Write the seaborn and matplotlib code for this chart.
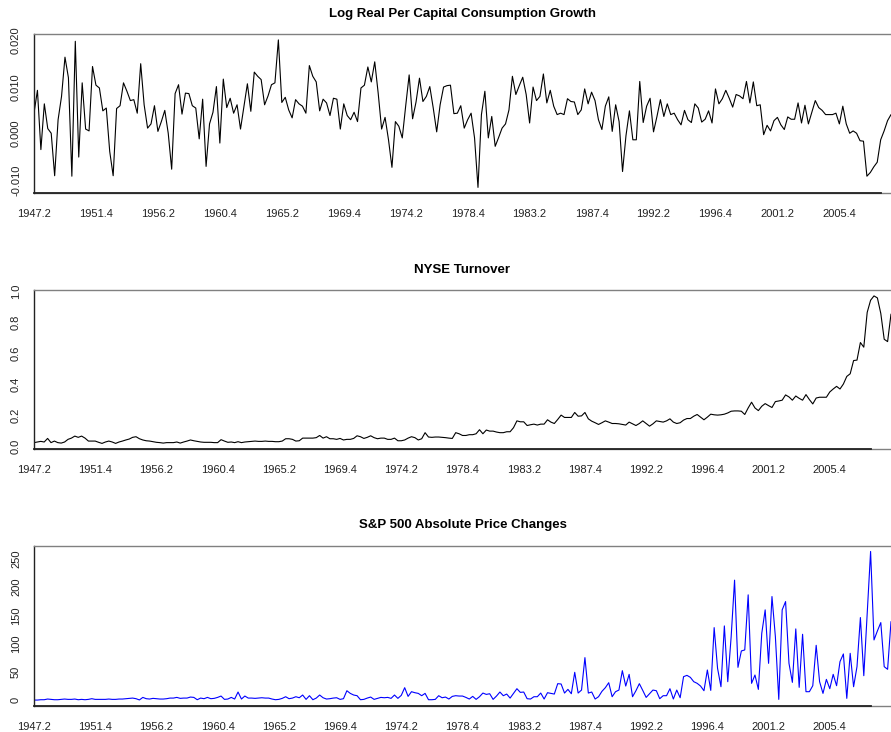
import numpy as np
import pandas as pd
import matplotlib
matplotlib.use("Agg")
import matplotlib.pyplot as plt
import seaborn as sns

# ---------------- data (quarterly, first observation 1947.2) ----------------
consumption = [
    0.0044, 0.0093, -0.0034, 0.0064, 0.0011, 0.0001, -0.0090, 0.0030, 0.0080, 0.0164,
    0.0120, -0.0091, 0.0198, -0.0050, 0.0109, 0.0010, 0.0006, 0.0144, 0.0104, 0.0098,
    0.0049, 0.0055, -0.0038, -0.0090, 0.0054, 0.0060, 0.0109, 0.0091, 0.0071, 0.0073,
    0.0044, 0.0150, 0.0062, 0.0012, 0.0021, 0.0060, 0.0005, 0.0026, 0.0050, 0.0001,
    -0.0076, 0.0086, 0.0105, 0.0042, 0.0087, 0.0086, 0.0060, 0.0055, -0.0011, 0.0074,
    -0.0070, 0.0021, 0.0046, 0.0101, -0.0020, 0.0117, 0.0056, 0.0076, 0.0044, 0.0062,
    0.0010, 0.0059, 0.0107, 0.0048, 0.0132, 0.0123, 0.0116, 0.0062, 0.0081, 0.0105,
    0.0109, 0.0201, 0.0067, 0.0078, 0.0051, 0.0034, 0.0073, 0.0064, 0.0059, 0.0044,
    0.0146, 0.0123, 0.0111, 0.0049, 0.0074, 0.0066, 0.0039, 0.0076, 0.0074, 0.0010,
    0.0064, 0.0039, 0.0030, 0.0046, 0.0026, 0.0098, 0.0104, 0.0143, 0.0111, 0.0154,
    0.0087, 0.0010, 0.0035, -0.0013, -0.0072, 0.0026, 0.0016, -0.0009, 0.0060, 0.0126,
    0.0032, 0.0068, 0.0119, 0.0069, 0.0080, 0.0101, 0.0055, 0.0004, 0.0062, 0.0100,
    0.0103, 0.0104, 0.0043, 0.0044, 0.0060, 0.0012, 0.0030, 0.0044, -0.0009, -0.0115,
    0.0041, 0.0091, -0.0009, 0.0037, -0.0027, -0.0008, 0.0012, 0.0021, 0.0051, 0.0123,
    0.0084, 0.0103, 0.0121, 0.0084, 0.0023, 0.0100, 0.0071, 0.0080, 0.0128, 0.0066,
    0.0093, 0.0059, 0.0041, 0.0044, 0.0041, 0.0075, 0.0069, 0.0068, 0.0041, 0.0051,
    0.0096, 0.0064, 0.0089, 0.0071, 0.0030, 0.0009, 0.0059, 0.0079, 0.0005, 0.0062,
    0.0026, -0.0081, -0.0004, 0.0049, -0.0013, -0.0013, 0.0112, 0.0024, 0.0059, 0.0076,
    0.0004, 0.0037, 0.0073, 0.0037, 0.0064, 0.0041, 0.0044, 0.0030, 0.0019, 0.0050,
    0.0030, 0.0024, 0.0064, 0.0055, 0.0025, 0.0031, 0.0049, 0.0023, 0.0096, 0.0064,
    0.0075, 0.0093, 0.0076, 0.0057, 0.0084, 0.0081, 0.0075, 0.0112, 0.0066, 0.0111,
    0.0060, 0.0062, -0.0002, 0.0018, 0.0006, 0.0028, 0.0035, 0.0019, 0.0009, 0.0036,
    0.0031, 0.0031, 0.0066, 0.0023, 0.0061, 0.0021, 0.0046, 0.0071, 0.0056, 0.0050,
    0.0041, 0.0041, 0.0041, 0.0044, 0.0021, 0.0059, 0.0021, 0.0001, 0.0006, 0.0001,
    -0.0015, -0.0016, -0.0091, -0.0083, -0.0071, -0.0061, -0.0013, 0.0006, 0.0028, 0.0041,
]

turnover = [
    0.026, 0.030, 0.034, 0.030, 0.053, 0.026, 0.036, 0.026, 0.023, 0.030,
    0.047, 0.055, 0.068, 0.060, 0.068, 0.055, 0.036, 0.036, 0.036, 0.028,
    0.021, 0.030, 0.036, 0.030, 0.021, 0.030, 0.036, 0.043, 0.049, 0.060,
    0.064, 0.051, 0.043, 0.038, 0.036, 0.032, 0.028, 0.026, 0.023, 0.026,
    0.026, 0.026, 0.030, 0.023, 0.030, 0.036, 0.043, 0.038, 0.034, 0.030,
    0.028, 0.028, 0.028, 0.026, 0.026, 0.045, 0.036, 0.028, 0.030, 0.026,
    0.032, 0.026, 0.030, 0.032, 0.034, 0.036, 0.034, 0.034, 0.036, 0.034,
    0.034, 0.032, 0.032, 0.036, 0.051, 0.051, 0.047, 0.036, 0.038, 0.055,
    0.055, 0.055, 0.055, 0.058, 0.072, 0.055, 0.064, 0.051, 0.051, 0.047,
    0.053, 0.043, 0.047, 0.047, 0.053, 0.070, 0.064, 0.053, 0.060, 0.070,
    0.058, 0.051, 0.055, 0.055, 0.047, 0.047, 0.055, 0.038, 0.038, 0.043,
    0.055, 0.064, 0.058, 0.043, 0.051, 0.090, 0.062, 0.060,
    0.062, 0.062, 0.060, 0.058, 0.055, 0.053, 0.090, 0.083, 0.072, 0.072,
    0.077, 0.077, 0.083, 0.109, 0.083, 0.107, 0.100, 0.100, 0.094, 0.090,
    0.090, 0.096, 0.096, 0.122, 0.166, 0.160, 0.160, 0.136, 0.141, 0.145,
    0.139, 0.145, 0.145, 0.173, 0.158, 0.149, 0.175, 0.203, 0.188, 0.188,
    0.188, 0.220, 0.196, 0.198, 0.220, 0.179, 0.164, 0.154, 0.143, 0.154,
    0.166, 0.158, 0.149, 0.149, 0.147, 0.143, 0.139, 0.158, 0.147, 0.136,
    0.149, 0.166, 0.149, 0.132, 0.147, 0.166, 0.162, 0.158, 0.166, 0.179,
    0.158, 0.149, 0.154, 0.171, 0.181, 0.181, 0.196, 0.207, 0.190, 0.173,
    0.190, 0.209, 0.205, 0.203, 0.205, 0.209, 0.217, 0.228, 0.230, 0.230,
    0.228, 0.207, 0.249, 0.286, 0.249, 0.232, 0.260, 0.277, 0.264, 0.252,
    0.290, 0.294, 0.299, 0.333, 0.320, 0.299, 0.326, 0.311, 0.299, 0.335,
    0.303, 0.275, 0.313, 0.318, 0.318, 0.318, 0.352, 0.371, 0.388, 0.371,
    0.403, 0.452, 0.469, 0.554, 0.557, 0.670, 0.640, 0.864, 0.942, 0.970,
    0.957, 0.857, 0.691, 0.676, 0.853,
]

sp500_abs_change = [
    0.0, 0.0, 0.6, 0.6, 1.8, 1.2, 0.6, 0.6, 1.2, 1.8,
    1.2, 1.2, 1.8, 0.6, 1.2, 0.6, 1.2, 2.4, 1.2, 1.2,
    1.2, 1.2, 1.8, 1.2, 1.2, 1.8, 1.8, 2.4, 3.0, 3.5,
    2.4, 0.2, 4.7, 2.4, 1.8, 3.0, 2.4, 1.8, 1.8, 2.4,
    3.5, 3.5, 4.7, 3.0, 3.5, 3.5, 5.3, 4.7, 0.6, 3.5,
    2.4, 4.7, 2.4, 3.0, 4.7, 7.1, 1.2, 1.8, 4.7, 1.8,
    14.2, 1.8, 7.1, 3.5, 3.5, 3.0, 3.5, 4.1, 3.5, 3.5,
    1.8, 0.6, 1.2, 3.0, 5.9, 2.4, 3.5, 5.9, 4.1, 8.9,
    1.2, 7.7, 0.6, 3.5, 8.9, 4.1, 1.8, 2.4, 3.5, 4.1,
    1.2, 2.4, 16.5, 11.8, 8.9, 7.7, 0.6, 1.2, 3.5, 5.3,
    1.2, 3.0, 4.7, 4.1, 4.7, 3.0, 8.9, 3.0, 8.3, 21.9,
    6.5, 14.8, 13.0, 11.8, 7.7, 11.8, 0.6, 0.6, 1.2,
    7.7, 4.1, 5.3, 1.8, 6.5, 7.7, 7.1, 7.1, 4.7, 1.8,
    6.5, 1.2, 5.9, 12.4, 10.0, 11.2, 1.2, 7.1, 14.2, 7.7,
    10.6, 3.5, 11.8, 20.1, 13.6, 14.2, 2.4, 1.8, 5.9, 5.9,
    12.4, 1.8, 13.0, 11.8, 10.6, 29.0, 28.4, 12.4, 18.9, 11.2,
    49.1, 12.4, 17.7, 75.1, 12.4, 14.2, 1.8, 5.9, 15.4, 21.9,
    30.7, 5.9, 14.8, 17.7, 52.0, 24.8, 45.5, 5.9, 16.5, 29.0,
    17.1, 4.7, 11.2, 17.7, 16.5, 2.4, 7.7, 7.7, 20.1, 1.8,
    17.7, 4.1, 41.4, 43.7, 40.2, 32.5, 29.6, 24.8, 16.5, 53.2,
    17.1, 128.2, 56.1, 23.6, 131.2, 32.5, 112.3, 212.2, 57.9, 86.9,
    88.7, 186.2, 29.6, 44.3, 18.9, 118.2, 159.6, 65.0, 183.2, 112.3,
    1.2, 159.6, 174.3, 65.0, 31.3, 125.9, 22.5, 116.4, 14.8, 14.8,
    25.4, 96.9, 32.5, 11.8, 36.6, 20.1, 45.5, 25.4, 68.0, 81.6,
    3.0, 82.7, 23.6, 59.1, 146.0, 43.1, 153.7, 263.0, 106.4, 122.3,
    137.1, 59.1, 54.4, 138.9,
]

quarter_labels = ["1947.2", "1951.4", "1956.2", "1960.4", "1965.2", "1969.4", "1974.2",
                  "1978.4", "1983.2", "1987.4", "1992.2", "1996.4", "2001.2", "2005.4"]

titles = ["Log Real Per Capital Consumption Growth",
          "NYSE Turnover",
          "S&P 500 Absolute Price Changes"]

cons_yticks = [-0.010, -0.005, 0.000, 0.005, 0.010, 0.015, 0.020]
cons_ylabels = ["-0.010", "", "0.000", "", "0.010", "", "0.020"]
turn_yticks = [0.0, 0.2, 0.4, 0.6, 0.8, 1.0]
turn_ylabels = ["0.0", "0.2", "0.4", "0.6", "0.8", "1.0"]
sp_yticks = [0, 50, 100, 150, 200, 250]
sp_ylabels = ["0", "50", "100", "150", "200", "250"]

# ---------------- styling ----------------
sns.set_style("white")
plt.rcParams['font.family'] = ['Liberation Sans', 'DejaVu Sans']

W, H = 891, 732
fig = plt.figure(figsize=(W / 100, H / 100), dpi=100)

panels = [
    (consumption, titles[0], "black", 34.0, 193.3, cons_yticks, cons_ylabels),
    (turnover, titles[1], "black", 290.0, 449.3, turn_yticks, turn_ylabels),
    (sp500_abs_change, titles[2], "#0000FF", 545.5, 706.0, sp_yticks, sp_ylabels),
]

left_px = 34.0
dark = "#222222"
boxgray = "#808080"

for vals, title, color, top_px, bot_px, yt, yl in panels:
    ax = fig.add_axes([left_px / W, 1 - bot_px / H, (W - left_px) / W, (bot_px - top_px) / H])
    n = len(vals)
    df = pd.DataFrame({"t": np.arange(n), "v": vals})
    sns.lineplot(data=df, x="t", y="v", ax=ax, color=color, lw=0.8)
    ax.set_xlim(0, n - 1)
    lo, hi = min(vals), max(vals)
    rng = hi - lo
    ax.set_ylim(lo - 0.04 * rng, hi + 0.04 * rng)
    ax.set_xlabel("")
    ax.set_ylabel("")

    major = np.arange(0, 18 * len(quarter_labels), 18)
    minor = np.array([m for m in range(0, 247, 6) if m % 18 != 0])
    ax.set_xticks(major)
    ax.set_xticklabels(quarter_labels)
    ax.set_xticks(minor, minor=True)
    ax.set_yticks(yt)
    ax.set_yticklabels(yl, rotation=90, va="center", ha="right")

    ax.tick_params(axis="both", which="both", direction="out", length=3.8, width=0.8,
                   color=dark, labelsize=8, labelcolor=dark)
    ax.tick_params(axis="x", which="both", pad=7.5)
    ax.tick_params(axis="y", which="both", pad=5.5)

    ax.spines["top"].set_color(boxgray)
    ax.spines["top"].set_linewidth(1.0)
    ax.spines["right"].set_visible(False)
    ax.spines["left"].set_color(dark)
    ax.spines["left"].set_linewidth(1.0)
    ax.spines["bottom"].set_color(dark)
    ax.spines["bottom"].set_linewidth(1.3)
    ax.spines["bottom"].set_bounds(0, 246)
    ax.axhline(ax.get_ylim()[0], color=boxgray, lw=1.0, zorder=0, clip_on=False)

    ax.set_title(title, fontsize=9.5, fontweight="bold", pad=12.5, color="black")

fig.savefig("out.png", dpi=100)
